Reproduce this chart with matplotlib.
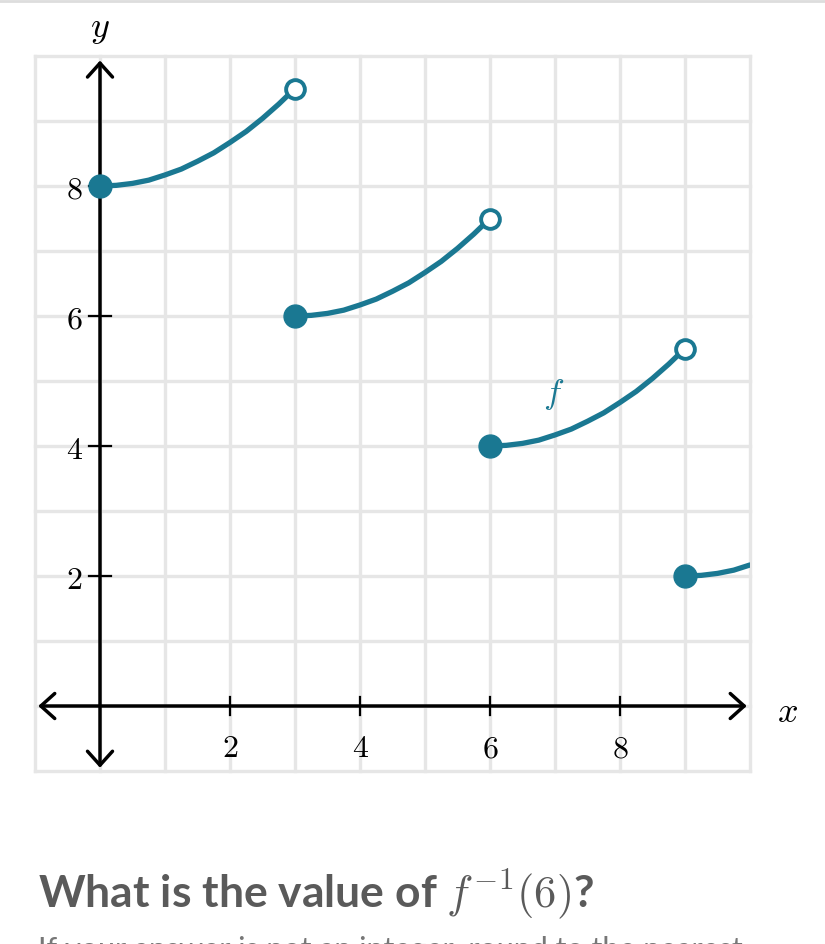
import matplotlib.pyplot as plt
import matplotlib.lines as mlines

plt.rcParams['mathtext.fontset'] = 'cm'

# ------------------------------------------------------------
# Data
# ------------------------------------------------------------
piece1_x = [0, 0.25, 0.5, 0.75, 1, 1.25, 1.5, 1.75, 2, 2.25, 2.5, 2.75, 3]
piece1_y = [8, 8.01, 8.04, 8.09, 8.17, 8.26, 8.38, 8.51, 8.67, 8.84, 9.04, 9.26, 9.5]
piece2_x = [3, 3.25, 3.5, 3.75, 4, 4.25, 4.5, 4.75, 5, 5.25, 5.5, 5.75, 6]
piece2_y = [6, 6.01, 6.04, 6.09, 6.17, 6.26, 6.38, 6.51, 6.67, 6.84, 7.04, 7.26, 7.5]
piece3_x = [6, 6.25, 6.5, 6.75, 7, 7.25, 7.5, 7.75, 8, 8.25, 8.5, 8.75, 9]
piece3_y = [4, 4.01, 4.04, 4.09, 4.17, 4.26, 4.38, 4.51, 4.67, 4.84, 5.04, 5.26, 5.5]
piece4_x = [9, 9.25, 9.5, 9.75, 10]
piece4_y = [2, 2.01, 2.04, 2.09, 2.17]

closed_x = [0, 3, 6, 9]
closed_y = [8, 6, 4, 2]
open_x = [3, 6, 9]
open_y = [9.5, 7.5, 5.5]

tick_vals = [2, 4, 6, 8]
grid_vals = list(range(-1, 11))

teal = '#1a7892'
grid_color = '#e6e6e6'

W, H = 825, 945
fig = plt.figure(figsize=(W / 100, H / 100), dpi=100)
ax = fig.add_axes([35 / W, (H - 772) / H, 715 / W, 715 / H])
ax.set_xlim(-1, 10)
ax.set_ylim(-1, 10)
ax.axis('off')

# grid
for g in grid_vals:
    ax.axvline(g, color=grid_color, lw=2.4, zorder=0, clip_on=False)
    ax.axhline(g, color=grid_color, lw=2.4, zorder=0, clip_on=False)

# axes with arrows
arrow = dict(arrowstyle='<->,head_length=0.5,head_width=0.45', lw=2.5,
             color='black', mutation_scale=20, shrinkA=0, shrinkB=0)
ax.annotate('', xy=(9.95, 0), xytext=(-0.95, 0), arrowprops=arrow, zorder=2)
ax.annotate('', xy=(0, 9.93), xytext=(0, -0.95), arrowprops=arrow, zorder=2)

for t in tick_vals:
    ax.plot([t, t], [-0.14, 0.14], color='black', lw=1.6, zorder=2)
    ax.plot([-0.17, 0.17], [t, t], color='black', lw=1.6, zorder=2)
    ax.text(t, -0.64, f'${t}$', ha='center', va='center', fontsize=23)
    ax.text(-0.4, t - 0.05, f'${t}$', ha='center', va='center', fontsize=23)

ax.text(0, 10.43, '$y$', ha='center', va='center', fontsize=26, clip_on=False)
ax.text(10.57, -0.08, '$x$', ha='center', va='center', fontsize=26, clip_on=False)

# function pieces
for px, py in [(piece1_x, piece1_y), (piece2_x, piece2_y),
               (piece3_x, piece3_y), (piece4_x, piece4_y)]:
    ax.plot(px, py, color=teal, lw=3.8, solid_capstyle='round',
            solid_joinstyle='round', zorder=3)

ax.plot(closed_x, closed_y, 'o', color=teal, ms=16.5, zorder=4, clip_on=False)
ax.plot(open_x, open_y, 'o', mfc='white', mec=teal, mew=2.8, ms=13.5,
        zorder=4, clip_on=False)

ax.text(6.98, 4.8, '$f$', color=teal, ha='center', va='center', fontsize=25)

# question text
fig.add_artist(mlines.Line2D([0, 1], [1 - 2 / H, 1 - 2 / H], color='#dddddd', lw=2))
fig.text(38 / W, 1 - 907 / H, 'What is the value of $f^{-1}(6)$?',
         fontfamily='Lato', fontweight='bold', fontsize=32, color='#5a5a5a',
         ha='left', va='baseline')
fig.text(38 / W, 1 - 936 / H,
         'If your answer is not an integer, round to the nearest',
         fontfamily='Lato', fontsize=22, color='#777777', ha='left', va='top')

fig.savefig('out.png', dpi=100)
